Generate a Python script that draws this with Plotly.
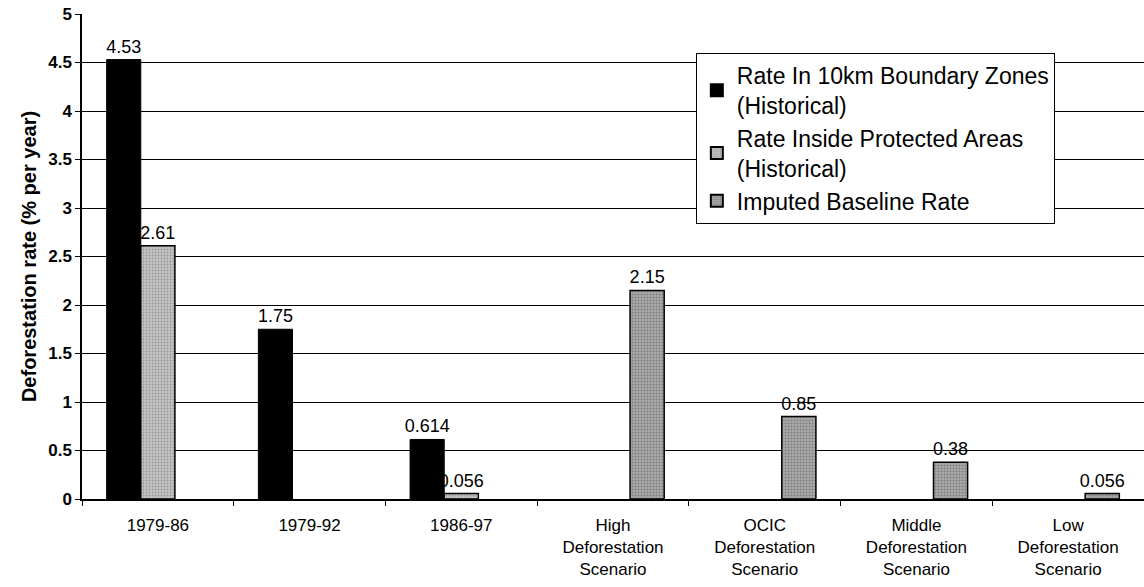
import plotly.graph_objects as go

categories = ["1979-86", "1979-92", "1986-97",
              "High<br>Deforestation<br>Scenario",
              "OCIC<br>Deforestation<br>Scenario",
              "Middle<br>Deforestation<br>Scenario",
              "Low<br>Deforestation<br>Scenario"]
boundary = [4.53, 1.75, 0.614, None, None, None, None]
protected = [2.61, None, 0.056, None, None, None, None]
imputed = [None, None, None, 2.15, 0.85, 0.38, 0.056]
boundary_lbl = ["4.53", "1.75", "0.614", "", "", "", ""]
protected_lbl = ["2.61", "", "0.056", "", "", "", ""]
imputed_lbl = ["", "", "", "2.15", "0.85", "0.38", "0.056"]
names = ["Rate In 10km Boundary Zones<br>(Historical)",
         "Rate Inside Protected Areas<br>(Historical)",
         "Imputed Baseline Rate"]
yticks = [0, 0.5, 1, 1.5, 2, 2.5, 3, 3.5, 4, 4.5, 5]

FONT = "Liberation Sans, Arial, sans-serif"
fig = go.Figure()
fig.add_trace(go.Bar(x=categories, y=boundary, name=names[0], text=boundary_lbl,
                     textposition="outside", cliponaxis=False,
                     marker=dict(color="#000000", line=dict(color="#000000", width=1))))
fig.add_trace(go.Bar(x=categories, y=protected, name=names[1], text=protected_lbl,
                     textposition="outside", cliponaxis=False,
                     marker=dict(color="#bdbdbd", line=dict(color="#000000", width=1.5),
                                 pattern=dict(shape=".", fgcolor="#6a6a6a", bgcolor="#c4c4c4",
                                              size=3, solidity=0.3))))
fig.add_trace(go.Bar(x=categories, y=imputed, name=names[2], text=imputed_lbl,
                     textposition="outside", cliponaxis=False,
                     marker=dict(color="#a0a0a0", line=dict(color="#000000", width=1.5),
                                 pattern=dict(shape=".", fgcolor="#505050", bgcolor="#acacac",
                                              size=3, solidity=0.4))))

fig.update_traces(textfont=dict(family=FONT, size=18, color="#000000"),
                  textangle=0, constraintext="none")

fig.update_layout(
    width=1144, height=587,
    margin=dict(l=82, r=0, t=14, b=88),
    paper_bgcolor="white", plot_bgcolor="white",
    barmode="group", bargap=0.325, bargroupgap=0,
    font=dict(family=FONT, color="#000000"),
    showlegend=True,
    legend=dict(x=0.578, y=0.92, xanchor="left", yanchor="top",
                bgcolor="white", bordercolor="#000000", borderwidth=1,
                font=dict(family=FONT, size=23, color="#000000"),
                itemsizing="constant", tracegroupgap=0, itemwidth=30,
                traceorder="normal"),
    xaxis=dict(showline=True, linecolor="#000000", linewidth=1.5,
               ticks="outside", ticklen=5, tickcolor="#000000",
               tickson="boundaries", automargin=False,
               ticklabelstandoff=10,
               tickfont=dict(family=FONT, size=17, color="#000000"),
               showgrid=False),
    yaxis=dict(range=[0, 5], tickvals=yticks,
               ticktext=[str(t) for t in yticks],
               showline=True, linecolor="#000000", linewidth=1.5,
               ticks="outside", ticklen=5, tickcolor="#000000",
               showgrid=True, gridcolor="#000000", gridwidth=1,
               zeroline=False, automargin=False,
               tickfont=dict(family=FONT, size=17, color="#000000", weight="bold"),
               title=dict(text="Deforestation rate (% per year)",
                          font=dict(family=FONT, size=20, color="#000000", weight="bold"),
                          standoff=6)),
)

fig.write_html("out.html", config={"displayModeBar": False},
               post_script="document.body.style.margin='0px';")
